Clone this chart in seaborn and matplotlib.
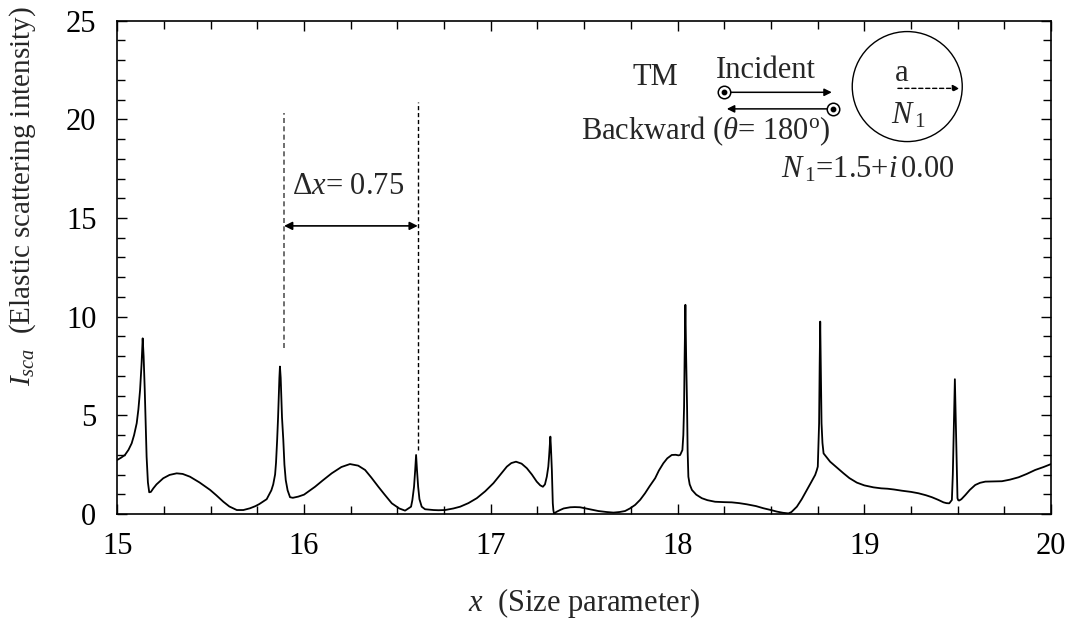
import matplotlib
matplotlib.use("Agg")
import matplotlib.pyplot as plt
from matplotlib.patches import Ellipse
import seaborn as sns
import pandas as pd

# ---- data ----
size_param = [
    15.000, 15.020, 15.041, 15.060, 15.077, 15.090, 15.104, 15.113, 15.122, 15.130,
    15.136, 15.141, 15.147, 15.152, 15.157, 15.164, 15.171, 15.180, 15.193, 15.210,
    15.246, 15.280, 15.318, 15.350, 15.389, 15.440, 15.497, 15.530, 15.568, 15.600,
    15.640, 15.675, 15.711, 15.740, 15.760, 15.800, 15.825, 15.835, 15.845, 15.850,
    15.856, 15.861, 15.865, 15.868, 15.871, 15.875, 15.878, 15.882, 15.889, 15.895,
    15.902, 15.912, 15.925, 15.940, 15.969, 16.000, 16.059, 16.100, 16.148, 16.200,
    16.246, 16.290, 16.327, 16.360, 16.398, 16.430, 16.470, 16.510, 16.541, 16.573,
    16.580, 16.589, 16.595, 16.600, 16.605, 16.611, 16.618, 16.630, 16.648, 16.693,
    16.720, 16.755, 16.800, 16.836, 16.880, 16.925, 16.970, 17.014, 17.050, 17.086,
    17.110, 17.135, 17.165, 17.193, 17.220, 17.246, 17.265, 17.279, 17.290, 17.300,
    17.308, 17.312, 17.316, 17.319, 17.322, 17.327, 17.332, 17.335, 17.339, 17.350,
    17.371, 17.390, 17.425, 17.450, 17.478, 17.505, 17.540, 17.576, 17.620, 17.657,
    17.690, 17.719, 17.745, 17.773, 17.800, 17.826, 17.850, 17.880, 17.900, 17.924,
    17.945, 17.969, 17.990, 18.005, 18.014, 18.026, 18.031, 18.035, 18.038, 18.042,
    18.046, 18.051, 18.054, 18.058, 18.065, 18.077, 18.100, 18.130, 18.160, 18.201,
    18.250, 18.290, 18.330, 18.371, 18.420, 18.460, 18.500, 18.532, 18.565, 18.594,
    18.610, 18.639, 18.665, 18.693, 18.715, 18.737, 18.745, 18.751, 18.758, 18.761,
    18.764, 18.767, 18.771, 18.776, 18.782, 18.800, 18.817, 18.850, 18.889, 18.920,
    18.960, 19.000, 19.049, 19.090, 19.125, 19.160, 19.201, 19.250, 19.290, 19.330,
    19.362, 19.395, 19.424, 19.440, 19.455, 19.469, 19.474, 19.478, 19.482, 19.485,
    19.488, 19.492, 19.496, 19.499, 19.503, 19.508, 19.520, 19.541, 19.565, 19.594,
    19.620, 19.648, 19.690, 19.737, 19.780, 19.826, 19.870, 19.915, 19.960, 20.000]
intensity = [
    2.74, 2.85, 2.99, 3.25, 3.58, 4.00, 4.60, 5.30, 6.28, 7.60,
    8.90, 8.00, 6.30, 4.50, 2.90, 1.60, 1.10, 1.12, 1.30, 1.50,
    1.81, 1.98, 2.06, 2.03, 1.89, 1.60, 1.22, 0.95, 0.62, 0.38,
    0.20, 0.20, 0.29, 0.40, 0.50, 0.75, 1.20, 1.50, 2.00, 2.60,
    3.75, 4.90, 6.00, 6.90, 7.47, 6.90, 6.00, 4.90, 3.75, 2.50,
    1.72, 1.20, 0.85, 0.82, 0.88, 0.98, 1.38, 1.70, 2.06, 2.38,
    2.53, 2.45, 2.23, 1.85, 1.38, 1.00, 0.54, 0.28, 0.17, 0.37,
    0.70, 1.38, 2.20, 2.99, 2.20, 1.38, 0.75, 0.37, 0.24, 0.20,
    0.19, 0.20, 0.28, 0.37, 0.55, 0.80, 1.15, 1.56, 1.98, 2.40,
    2.58, 2.65, 2.55, 2.32, 2.00, 1.64, 1.45, 1.38, 1.50, 1.89,
    2.40, 2.90, 3.50, 3.92, 3.40, 2.23, 0.54, 0.20, 0.00, 0.10,
    0.20, 0.28, 0.34, 0.35, 0.34, 0.29, 0.22, 0.15, 0.10, 0.07,
    0.10, 0.15, 0.28, 0.46, 0.72, 1.05, 1.40, 1.81, 2.20, 2.57,
    2.82, 2.99, 3.00, 2.97, 2.99, 3.24, 4.00, 5.44, 8.00, 10.60,
    8.00, 5.44, 3.20, 1.89, 1.50, 1.22, 0.98, 0.80, 0.70, 0.62,
    0.60, 0.59, 0.55, 0.49, 0.40, 0.29, 0.20, 0.12, 0.06, 0.03,
    0.10, 0.37, 0.75, 1.22, 1.60, 1.98, 2.20, 2.40, 4.60, 7.50,
    9.75, 7.50, 4.60, 3.60, 3.07, 2.85, 2.65, 2.38, 2.06, 1.82,
    1.59, 1.45, 1.35, 1.30, 1.28, 1.24, 1.18, 1.12, 1.05, 0.95,
    0.85, 0.72, 0.59, 0.55, 0.54, 0.71, 2.00, 3.75, 5.50, 6.83,
    5.50, 3.75, 2.00, 0.80, 0.70, 0.68, 0.75, 0.96, 1.22, 1.47,
    1.58, 1.64, 1.65, 1.66, 1.74, 1.86, 2.03, 2.23, 2.38, 2.53]

x_ticks = [15, 16, 17, 18, 19, 20]
y_ticks = [0, 5, 10, 15, 20, 25]
x_label = r"$x$  (Size parameter)"
y_label = r"$I_{sca}$  (Elastic scattering intensity)"

df = pd.DataFrame({"x": size_param, "I": intensity})

sns.set_style("ticks")
plt.rcParams["font.family"] = ["Liberation Serif", "DejaVu Serif"]
plt.rcParams["mathtext.fontset"] = "custom"
plt.rcParams["mathtext.rm"] = "Liberation Serif"
plt.rcParams["mathtext.it"] = "Liberation Serif:italic"
plt.rcParams["mathtext.bf"] = "Liberation Serif:bold"

fig = plt.figure(figsize=(10.77, 6.34), dpi=100)
ax = fig.add_axes([0.1089, 0.1893, 0.8670, 0.7781])

sns.lineplot(data=df, x="x", y="I", color="black", lw=1.3, ax=ax)
for ln in ax.get_lines():
    ln.set_solid_joinstyle("round")

ax.set_xlim(15, 20)
ax.set_ylim(0, 25)
ax.set_xticks(x_ticks)
ax.set_yticks(y_ticks)
ax.set_xticklabels([str(t) for t in x_ticks])
ax.set_yticklabels([str(t) for t in y_ticks])
ax.xaxis.set_minor_locator(matplotlib.ticker.MultipleLocator(0.25))
ax.yaxis.set_minor_locator(matplotlib.ticker.MultipleLocator(1))
ax.tick_params(which="both", direction="in", top=True, right=True, width=1.0,
               colors="black", labelsize=22)
ax.tick_params(which="major", length=7)
ax.tick_params(which="minor", length=6)
ax.tick_params(axis="x", pad=13)
ax.tick_params(axis="y", pad=15)
for s in ax.spines.values():
    s.set_linewidth(1.2)
    s.set_color("black")

ax.set_xlabel(x_label, fontsize=22)
ax.set_ylabel(y_label, fontsize=21)
ax.xaxis.set_label_coords(0.5, -0.145)
ax.yaxis.set_label_coords(-0.085, 0.645)

# Delta x annotation
ax.plot([15.893, 15.893], [8.4, 20.3], ls=(0, (3, 2)), color="#555555", lw=1.2)
ax.plot([16.609, 16.609], [3.24, 20.9], ls=(0, (3, 2)), color="black", lw=1.0)
ax.annotate("", xy=(15.893, 14.6), xytext=(16.609, 14.6),
            arrowprops=dict(arrowstyle="<|-|>", color="black", lw=1.2,
                            mutation_scale=12, shrinkA=0, shrinkB=0))
ax.text(16.236, 16.6, r"Δ$x$= 0.75", fontsize=22, ha="center", va="center")

# Inset schematic
ax.text(17.88, 22.1, "TM", fontsize=22, ha="center", va="center")
ax.text(18.47, 22.45, "Incident", fontsize=22, ha="center", va="center")
ax.annotate("", xy=(18.826, 21.37), xytext=(18.25, 21.37),
            arrowprops=dict(arrowstyle="-|>", color="black", lw=1.1,
                            mutation_scale=11, shrinkA=0, shrinkB=0))
ax.annotate("", xy=(18.264, 20.53), xytext=(18.832, 20.53),
            arrowprops=dict(arrowstyle="-|>", color="black", lw=1.1,
                            mutation_scale=11, shrinkA=0, shrinkB=0))
for cx, cy in [(18.25, 21.37), (18.832, 20.53)]:
    ax.plot([cx], [cy], marker="o", ms=9, mfc="white", mec="black", mew=1.1, zorder=5)
    ax.plot([cx], [cy], marker="o", ms=3.2, mfc="black", mec="black", zorder=6)
ax.text(18.15, 19.38, r"Backward ($\mathit{\theta}$= 180$^{\mathrm{o}}$)",
        fontsize=22, ha="center", va="center")
ax.text(19.02, 17.43, r"$N_{\,1}$=1.5+$i\,$0.00", fontsize=22, ha="center", va="center")

ax.add_patch(Ellipse((19.23, 21.66), width=0.589, height=5.575, fill=False,
                     ec="black", lw=1.0))
ax.text(19.20, 22.34, "a", fontsize=22, ha="center", va="center")
ax.annotate("", xy=(19.51, 21.57), xytext=(19.18, 21.57),
            arrowprops=dict(arrowstyle="-|>", color="black", lw=1.0, ls=(0, (3, 2)),
                            mutation_scale=10, shrinkA=0, shrinkB=0))
ax.text(19.235, 20.2, r"$N_{\,1}$", fontsize=22, ha="center", va="center")

fig.savefig("out.png", dpi=100)
